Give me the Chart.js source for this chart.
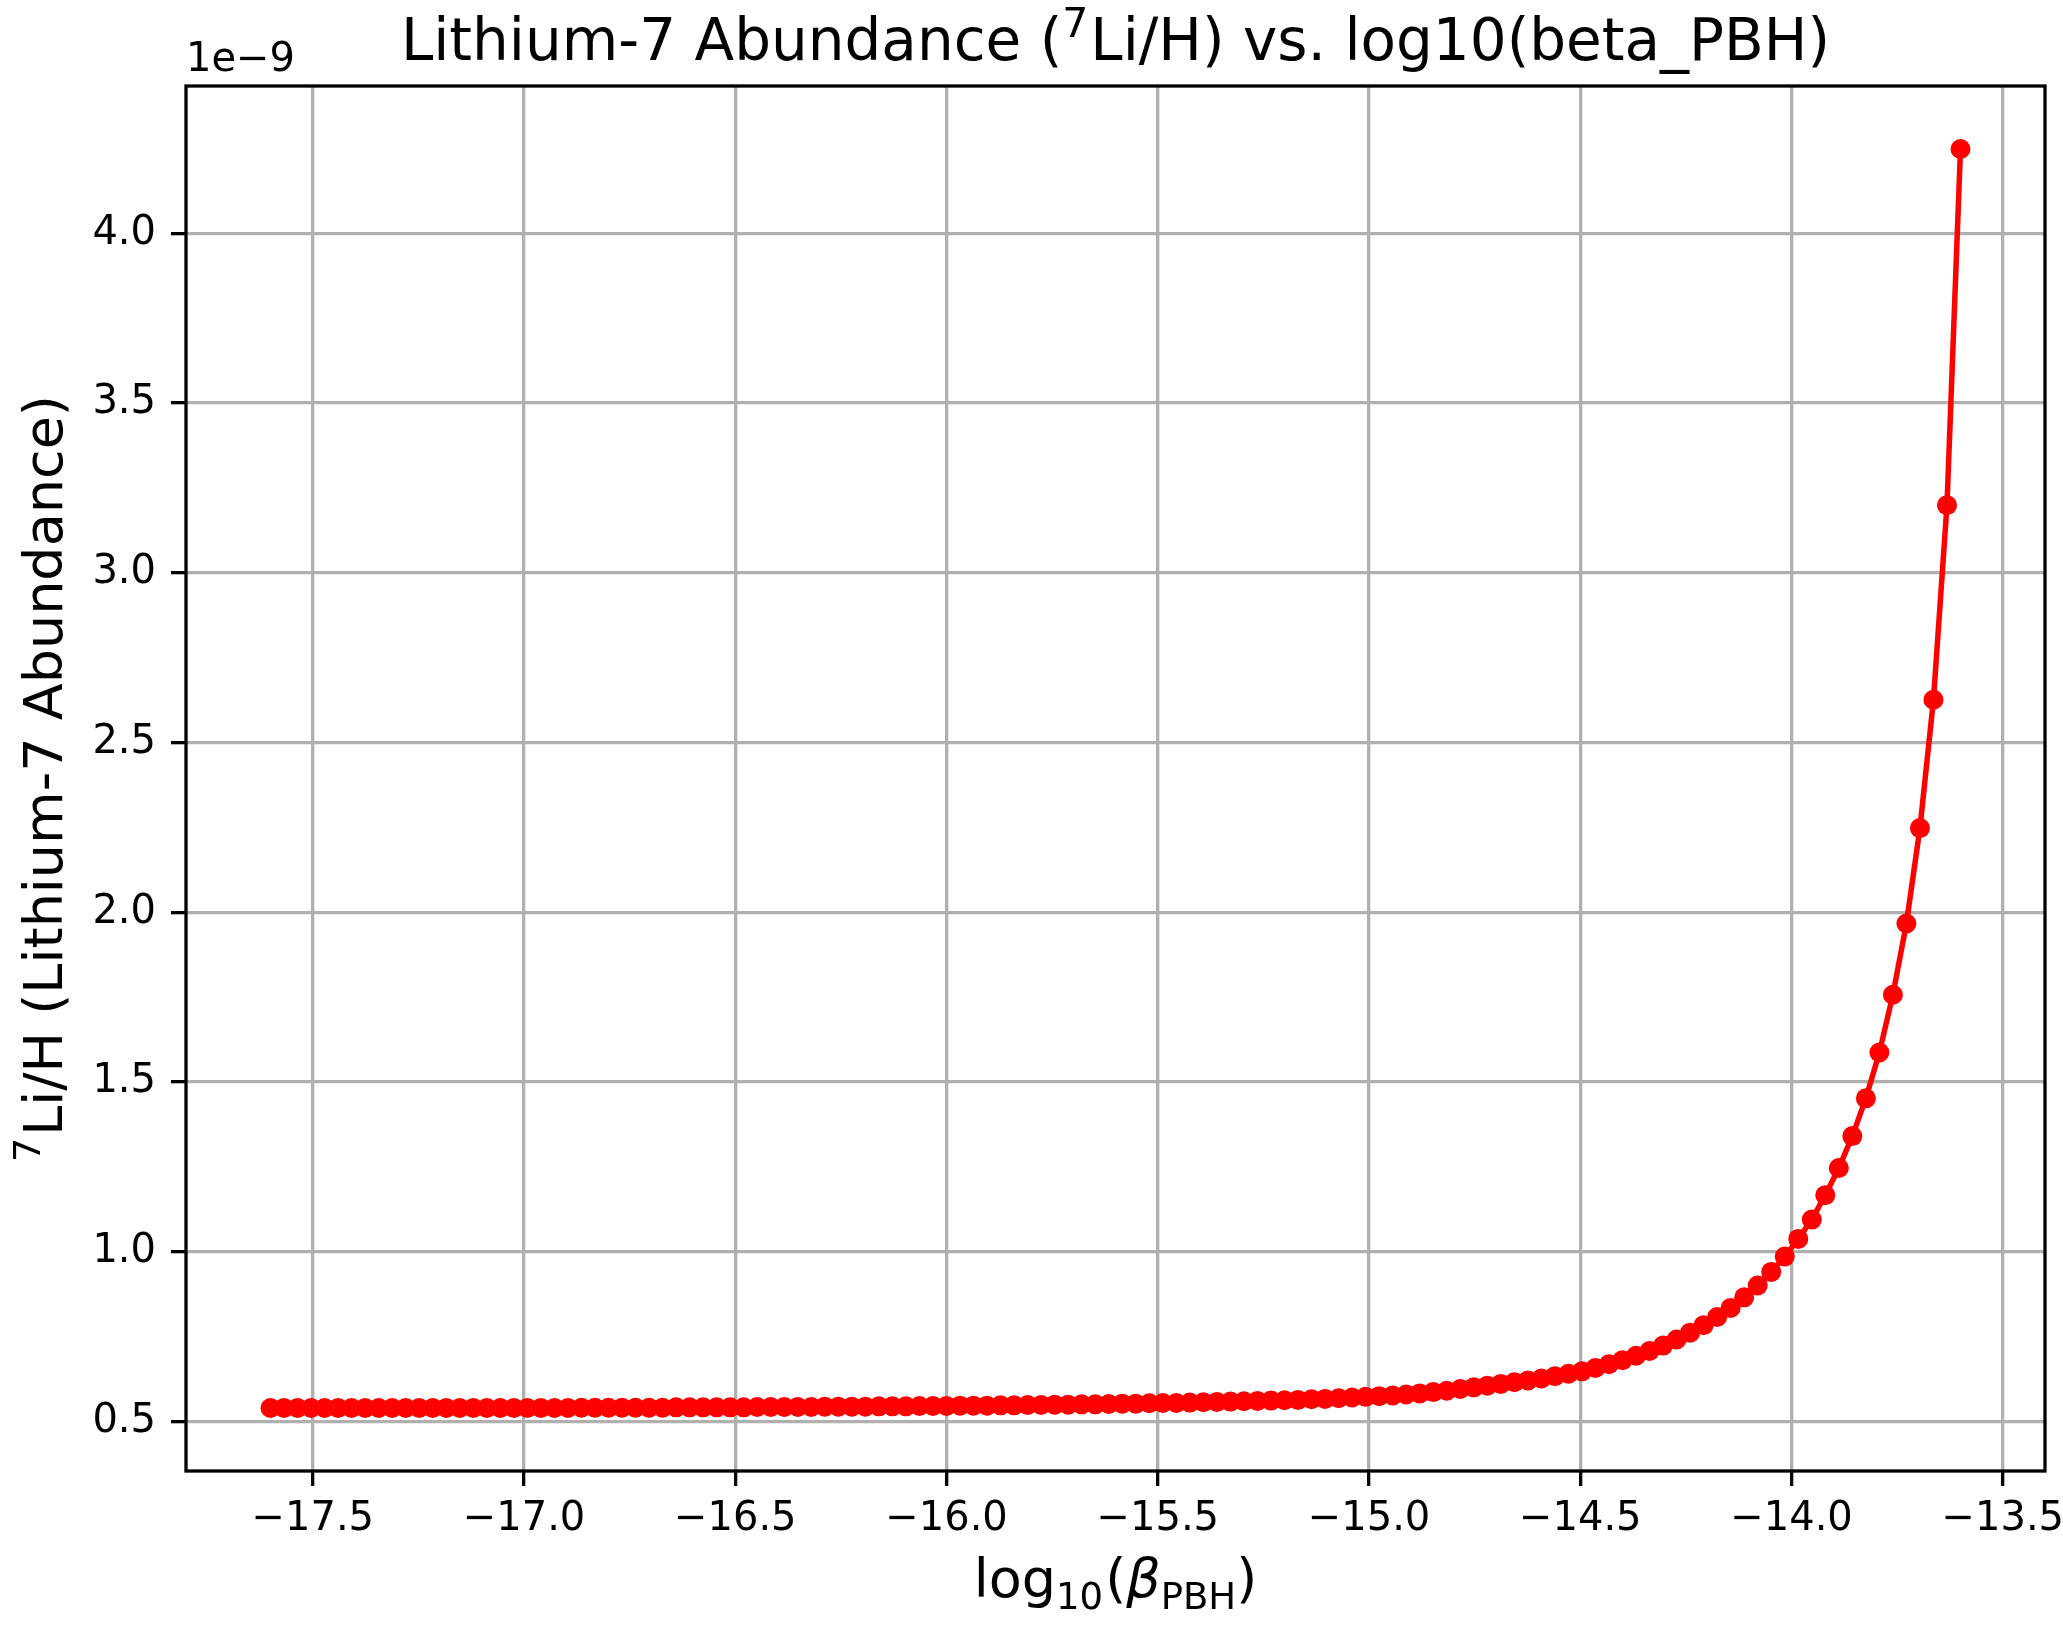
<!DOCTYPE html>
<html>
<head>
<meta charset="utf-8">
<script src="https://cdn.jsdelivr.net/npm/chart.js@4/dist/chart.umd.min.js"></script>
<style>
html,body{margin:0;padding:0;background:#ffffff;}
canvas{display:block;}
</style>
</head>
<body>
<canvas id="c" width="2063" height="1639"></canvas>
<script>
// x: log10(beta_PBH)
const log10Beta = [
 -17.600,-17.568,-17.536,-17.504,-17.472,-17.440,-17.408,-17.376,-17.344,-17.312,
 -17.280,-17.248,-17.216,-17.184,-17.152,-17.120,-17.088,-17.056,-17.024,-16.992,
 -16.960,-16.928,-16.896,-16.864,-16.832,-16.800,-16.768,-16.736,-16.704,-16.672,
 -16.640,-16.608,-16.576,-16.544,-16.512,-16.480,-16.448,-16.416,-16.384,-16.352,
 -16.320,-16.288,-16.256,-16.224,-16.192,-16.160,-16.128,-16.096,-16.064,-16.032,
 -16.000,-15.968,-15.936,-15.904,-15.872,-15.840,-15.808,-15.776,-15.744,-15.712,
 -15.680,-15.648,-15.616,-15.584,-15.552,-15.520,-15.488,-15.456,-15.424,-15.392,
 -15.360,-15.328,-15.296,-15.264,-15.232,-15.200,-15.168,-15.136,-15.104,-15.072,
 -15.040,-15.008,-14.976,-14.944,-14.912,-14.880,-14.848,-14.816,-14.784,-14.752,
 -14.720,-14.688,-14.656,-14.624,-14.592,-14.560,-14.528,-14.496,-14.464,-14.432,
 -14.400,-14.368,-14.336,-14.304,-14.272,-14.240,-14.208,-14.176,-14.144,-14.112,
 -14.080,-14.048,-14.016,-13.984,-13.952,-13.920,-13.888,-13.856,-13.824,-13.792,
 -13.760,-13.728,-13.696,-13.664,-13.632,-13.600
];
// y: 7Li/H in units of 1e-9
const li7H = [
 0.540,0.540,0.540,0.540,0.540,0.540,0.540,0.540,0.540,0.540,
 0.540,0.540,0.540,0.540,0.540,0.540,0.540,0.540,0.540,0.540,
 0.540,0.540,0.540,0.541,0.541,0.541,0.541,0.541,0.541,0.541,
 0.542,0.542,0.542,0.542,0.542,0.542,0.543,0.543,0.543,0.543,
 0.543,0.544,0.544,0.544,0.544,0.545,0.545,0.545,0.546,0.546,
 0.546,0.547,0.547,0.547,0.548,0.548,0.549,0.549,0.550,0.550,
 0.551,0.551,0.552,0.553,0.553,0.554,0.555,0.555,0.556,0.557,
 0.558,0.559,0.560,0.561,0.562,0.563,0.564,0.566,0.567,0.569,
 0.571,0.573,0.575,0.577,0.580,0.583,0.587,0.591,0.596,0.601,
 0.606,0.611,0.616,0.621,0.627,0.634,0.641,0.648,0.658,0.669,
 0.681,0.694,0.708,0.724,0.742,0.762,0.784,0.808,0.835,0.866,
 0.901,0.941,0.986,1.038,1.095,1.167,1.247,1.341,1.452,1.587,
 1.757,1.967,2.248,2.626,3.199,4.248
];
const xTicks = [-17.5,-17.0,-16.5,-16.0,-15.5,-15.0,-14.5,-14.0,-13.5];
const yTicks = [0.5,1.0,1.5,2.0,2.5,3.0,3.5,4.0];
const yOffsetText = '1e\u22129';
const titleText = ['Lithium-7 Abundance (', '7', 'Li/H) vs. log10(beta_PBH)'];
const yLabelText = ['7', 'Li/H (Lithium-7 Abundance)'];
const xLabelText = ['log', '10', '(', '\u03B2', 'PBH', ')'];

const FAM = "'DejaVu Sans'";
const fmt = v => v.toFixed(1).replace('-', '\u2212');

function drawRuns(ctx, runs, cx, base) {
  let total = 0;
  runs.forEach(r => { ctx.font = r.font; r.w = ctx.measureText(r.text).width; total += r.w + (r.gap || 0); });
  let x = cx - total / 2;
  runs.forEach(r => { ctx.font = r.font; ctx.fillText(r.text, x, base + (r.dy || 0)); x += r.w + (r.gap || 0); });
}

const overlay = {
  id: 'overlay',
  afterDraw(chart) {
    const ctx = chart.ctx, a = chart.chartArea;
    ctx.save();
    ctx.strokeStyle = '#000'; ctx.lineWidth = 3.3;
    ctx.strokeRect(a.left, a.top, a.right - a.left, a.bottom - a.top);
    ctx.fillStyle = '#000'; ctx.textAlign = 'left'; ctx.textBaseline = 'alphabetic';
    const cx = (a.left + a.right) / 2, cy = (a.top + a.bottom) / 2;
    // title
    drawRuns(ctx, [
      {text: titleText[0], font: `58px ${FAM}`},
      {text: titleText[1], font: `41px ${FAM}`, dy: -23, gap: 2},
      {text: titleText[2], font: `58px ${FAM}`}
    ], cx, 60);
    // offset text
    ctx.font = `40px ${FAM}`;
    ctx.fillText(yOffsetText, a.left, 71);
    // x label
    drawRuns(ctx, [
      {text: xLabelText[0], font: `54px ${FAM}`},
      {text: xLabelText[1], font: `37px ${FAM}`, dy: 12, gap: 2},
      {text: xLabelText[2], font: `54px ${FAM}`},
      {text: xLabelText[3], font: `italic 54px ${FAM}`},
      {text: xLabelText[4], font: `37px ${FAM}`, dy: 12},
      {text: xLabelText[5], font: `54px ${FAM}`}
    ], cx, 1597);
    // y label
    ctx.translate(62, cy);
    ctx.rotate(-Math.PI / 2);
    drawRuns(ctx, [
      {text: yLabelText[0], font: `38px ${FAM}`, dy: -22, gap: 2},
      {text: yLabelText[1], font: `54px ${FAM}`}
    ], 0, 0);
    ctx.restore();
  }
};

const gridOpts = {color: '#b0b0b0', lineWidth: 3.3, tickColor: '#000', tickWidth: 3.3, tickLength: 15, drawOnChartArea: true, drawTicks: true};

new Chart(document.getElementById('c').getContext('2d'), {
  type: 'line',
  data: {
    datasets: [{
      data: log10Beta.map((x, i) => ({x: x, y: li7H[i]})),
      borderColor: '#ff0000', backgroundColor: '#ff0000',
      borderWidth: 5.5, pointRadius: 10, pointBorderWidth: 0,
      pointBackgroundColor: '#ff0000', tension: 0, fill: false
    }]
  },
  options: {
    responsive: false, animation: false, devicePixelRatio: 1,
    layout: {padding: {left: 0, top: 86, right: 18, bottom: 0}},
    plugins: {legend: {display: false}, tooltip: {enabled: false}, title: {display: false}},
    scales: {
      x: {
        type: 'linear', min: -17.8, max: -13.4,
        afterBuildTicks: s => { s.ticks = xTicks.map(v => ({value: v})); },
        afterFit: s => { s.height = 168; s.paddingLeft = 0; s.paddingRight = 0; },
        grid: gridOpts, border: {display: false},
        ticks: {font: {family: 'DejaVu Sans', size: 40}, color: '#000', padding: 10,
                maxRotation: 0, autoSkip: false, callback: v => fmt(v)}
      },
      y: {
        type: 'linear', min: 0.3546, max: 4.4334,
        afterBuildTicks: s => { s.ticks = yTicks.map(v => ({value: v})); },
        afterFit: s => { s.width = 186; s.paddingTop = 0; s.paddingBottom = 0; },
        grid: gridOpts, border: {display: false},
        ticks: {font: {family: 'DejaVu Sans', size: 40}, color: '#000', padding: 15,
                autoSkip: false, callback: v => fmt(v)}
      }
    }
  },
  plugins: [overlay]
});
</script>
</body>
</html>
